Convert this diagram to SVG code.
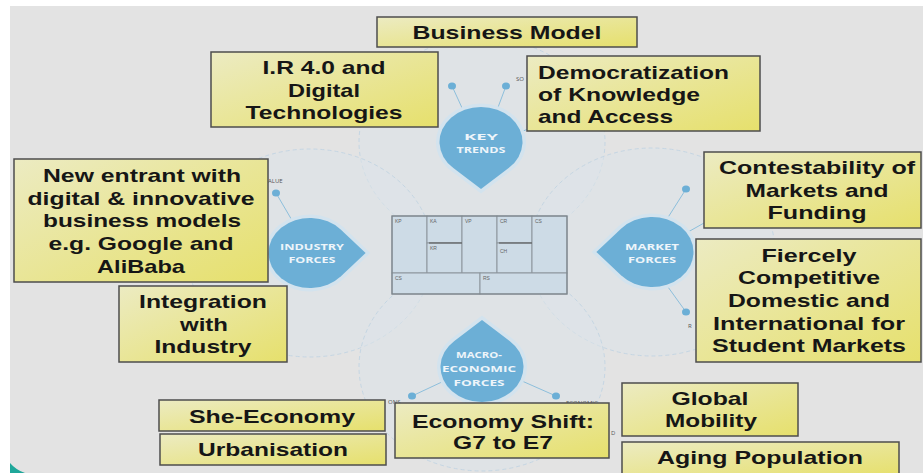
<svg xmlns="http://www.w3.org/2000/svg" width="923" height="473" viewBox="0 0 923 473">
<defs>
<linearGradient id="yg" x1="0" y1="0" x2="1" y2="1">
<stop offset="0" stop-color="#ecebc2"/>
<stop offset="1" stop-color="#e6e06c"/>
</linearGradient>
<path id="drop" d="M0,1.34 L-0.666,0.746 A1,1 0 1 1 0.666,0.746 Z"/>
<style>
.box{fill:url(#yg);stroke:#4d4d4d;stroke-width:1.5}
.bt{font-family:"Liberation Sans",Arial,sans-serif;font-weight:bold;font-size:19px;fill:#161616;text-anchor:middle}
.bl{font-family:"Liberation Sans",Arial,sans-serif;font-weight:bold;font-size:19px;fill:#161616}
.dt{font-family:"Open Sans","Liberation Sans",sans-serif;font-weight:bold;font-size:9.5px;fill:#eef5fa;text-anchor:middle}
.drop{fill:#6cafd6}
.halo{fill:#d3e3ee}
.big{fill:#dde4ea;fill-opacity:0.55;stroke:#c5d6e3;stroke-width:1;stroke-dasharray:4 3}
.sat{stroke:#8dbfdc;stroke-width:1;fill:none}
.dot{fill:#6cafd6}
.tiny{font-family:"Open Sans","Liberation Sans",sans-serif;font-size:6px;fill:#555}
.cell{fill:#cddbe6;stroke:#8d969d;stroke-width:1}
.cl{font-family:"Liberation Sans",sans-serif;font-size:5px;fill:#666}
</style>
</defs>

<rect x="0" y="0" width="923" height="473" fill="#ffffff"/>
<rect x="10" y="6" width="913" height="467" fill="#e3e3e3"/>
<path d="M10,463 Q16,470 25,473 L10,473 Z" fill="#1fa79a"/>

<g id="background-circles">
<ellipse class="big" cx="482" cy="142" rx="123" ry="104"/>
<ellipse class="big" cx="310" cy="253" rx="123" ry="104"/>
<ellipse class="big" cx="652" cy="252" rx="123" ry="104"/>
<ellipse class="big" cx="482" cy="367" rx="123" ry="104"/>
</g>

<g id="connectors">
<line class="sat" x1="452" y1="86" x2="463" y2="110"/>
<line class="sat" x1="506" y1="86" x2="497" y2="110"/>
<line class="sat" x1="521" y1="132" x2="530" y2="128"/>
<line class="sat" x1="276" y1="193" x2="293" y2="222"/>
<line class="sat" x1="284" y1="286" x2="276" y2="296"/>
<line class="sat" x1="686" y1="189" x2="667" y2="219"/>
<line class="sat" x1="686" y1="312" x2="668" y2="287"/>
<line class="sat" x1="688" y1="232" x2="704" y2="223"/>
<line class="sat" x1="412" y1="396" x2="444" y2="381"/>
<line class="sat" x1="556" y1="396" x2="522" y2="381"/>
<line class="sat" x1="466" y1="398" x2="466" y2="404"/>
<line class="sat" x1="499" y1="398" x2="499" y2="404"/>
<ellipse class="dot" cx="452" cy="86" rx="4" ry="3.5"/>
<ellipse class="dot" cx="506" cy="86" rx="4" ry="3.5"/>
<ellipse class="dot" cx="276" cy="193" rx="4" ry="3.5"/>
<ellipse class="dot" cx="686" cy="189" rx="4" ry="3.5"/>
<ellipse class="dot" cx="686" cy="312" rx="4" ry="3.5"/>
<ellipse class="dot" cx="412" cy="396" rx="4" ry="3.5"/>
<ellipse class="dot" cx="556" cy="396" rx="4" ry="3.5"/>
</g>

<g id="sat-labels">
<text class="tiny" x="516" y="81">SO</text>
<text class="tiny" x="268" y="183">ALUE</text>
<text class="tiny" x="688" y="328">R</text>
<text class="tiny" x="388" y="404">ONS</text>
<text class="tiny" x="566" y="405">ECONOMIC</text>
<text class="tiny" x="611" y="435">D</text>
</g>

<g id="canvas">
<rect class="cell" x="392" y="216" width="35" height="57"/>
<rect class="cell" x="427" y="216" width="35" height="27"/>
<rect class="cell" x="427" y="243" width="35" height="30"/>
<rect class="cell" x="462" y="216" width="35" height="57"/>
<rect class="cell" x="497" y="216" width="35" height="27"/>
<rect class="cell" x="497" y="243" width="35" height="30"/>
<rect class="cell" x="532" y="216" width="35" height="57"/>
<rect class="cell" x="392" y="273" width="88" height="21"/>
<rect class="cell" x="480" y="273" width="87" height="21"/>
<rect x="392" y="216" width="175" height="78" fill="none" stroke="#7d868d" stroke-width="1.2"/>
<line x1="429" y1="243" x2="462" y2="243" stroke="#555" stroke-width="1.2"/>
<line x1="499" y1="243" x2="532" y2="243" stroke="#555" stroke-width="1.2"/>
<text class="cl" x="395" y="223">KP</text>
<text class="cl" x="430" y="223">KA</text>
<text class="cl" x="465" y="223">VP</text>
<text class="cl" x="500" y="223">CR</text>
<text class="cl" x="535" y="223">CS</text>
<text class="cl" x="430" y="250">KR</text>
<text class="cl" x="500" y="253">CH</text>
<text class="cl" x="395" y="280">CS</text>
<text class="cl" x="483" y="280">RS</text>
</g>

<g id="key-trends">
<use href="#drop" class="halo" transform="translate(481,142) scale(45,38.5)"/>
<use href="#drop" class="drop" transform="translate(481,142) scale(41.5,35)"/>
<text class="dt" x="481" y="140" textLength="34" lengthAdjust="spacingAndGlyphs">KEY</text>
<text class="dt" x="481" y="153" textLength="49" lengthAdjust="spacingAndGlyphs">TRENDS</text>
</g>

<g id="industry-forces">
<use href="#drop" class="halo" transform="translate(310,253) scale(45,38.5) rotate(-90)"/>
<use href="#drop" class="drop" transform="translate(310,253) scale(41.5,35) rotate(-90)"/>
<text class="dt" x="312" y="250" textLength="64" lengthAdjust="spacingAndGlyphs">INDUSTRY</text>
<text class="dt" x="312" y="263" textLength="47" lengthAdjust="spacingAndGlyphs">FORCES</text>
</g>

<g id="market-forces">
<use href="#drop" class="halo" transform="translate(652,252) scale(45,38.5) rotate(90)"/>
<use href="#drop" class="drop" transform="translate(652,252) scale(41.5,35) rotate(90)"/>
<text class="dt" x="652" y="250" textLength="54" lengthAdjust="spacingAndGlyphs">MARKET</text>
<text class="dt" x="652" y="263" textLength="48" lengthAdjust="spacingAndGlyphs">FORCES</text>
</g>

<g id="macro-economic-forces">
<use href="#drop" class="halo" transform="translate(482,367) scale(45,38.5) rotate(180)"/>
<use href="#drop" class="drop" transform="translate(482,367) scale(41.5,35) rotate(180)"/>
<text class="dt" x="479" y="358" textLength="46" lengthAdjust="spacingAndGlyphs">MACRO-</text>
<text class="dt" x="479" y="372" textLength="74" lengthAdjust="spacingAndGlyphs">ECONOMIC</text>
<text class="dt" x="479" y="386" textLength="51" lengthAdjust="spacingAndGlyphs">FORCES</text>
</g>

<g id="business-model">
<rect class="box" x="377" y="17" width="260" height="30"/>
<text class="bt" x="507" y="39" textLength="189" lengthAdjust="spacingAndGlyphs">Business Model</text>
</g>

<g id="ir40">
<rect class="box" x="211" y="52" width="227" height="75"/>
<text class="bt" x="324" y="74" font-size="18" textLength="123" lengthAdjust="spacingAndGlyphs">I.R 4.0 and</text>
<text class="bt" x="324" y="97" font-size="18" textLength="72" lengthAdjust="spacingAndGlyphs">Digital</text>
<text class="bt" x="324" y="119" font-size="18" textLength="157" lengthAdjust="spacingAndGlyphs">Technologies</text>
</g>

<g id="democratization">
<rect class="box" x="527" y="56" width="233" height="75"/>
<text class="bl" x="538" y="79" textLength="191" lengthAdjust="spacingAndGlyphs">Democratization</text>
<text class="bl" x="538" y="101" textLength="162" lengthAdjust="spacingAndGlyphs">of Knowledge</text>
<text class="bl" x="538" y="123" textLength="135" lengthAdjust="spacingAndGlyphs">and Access</text>
</g>

<g id="new-entrant">
<rect class="box" x="14" y="159" width="254" height="123"/>
<text class="bt" x="142" y="182" textLength="198" lengthAdjust="spacingAndGlyphs">New entrant with</text>
<text class="bt" x="141" y="205" textLength="227" lengthAdjust="spacingAndGlyphs">digital &amp; innovative</text>
<text class="bt" x="142" y="227" textLength="198" lengthAdjust="spacingAndGlyphs">business models</text>
<text class="bt" x="141" y="250" textLength="185" lengthAdjust="spacingAndGlyphs">e.g. Google and</text>
<text class="bt" x="141" y="273" textLength="88" lengthAdjust="spacingAndGlyphs">AliBaba</text>
</g>

<g id="integration">
<rect class="box" x="119" y="286" width="168" height="76"/>
<text class="bt" x="203" y="308" textLength="128" lengthAdjust="spacingAndGlyphs">Integration</text>
<text class="bt" x="204" y="331" textLength="48" lengthAdjust="spacingAndGlyphs">with</text>
<text class="bt" x="203" y="353" textLength="97" lengthAdjust="spacingAndGlyphs">Industry</text>
</g>

<g id="contestability">
<rect class="box" x="704" y="152" width="217" height="76"/>
<text class="bt" x="817" y="174" textLength="196" lengthAdjust="spacingAndGlyphs">Contestability of</text>
<text class="bt" x="817" y="197" textLength="143" lengthAdjust="spacingAndGlyphs">Markets and</text>
<text class="bt" x="817" y="219" textLength="99" lengthAdjust="spacingAndGlyphs">Funding</text>
</g>

<g id="fiercely-competitive">
<rect class="box" x="696" y="239" width="225" height="123"/>
<text class="bt" x="809" y="262" textLength="95" lengthAdjust="spacingAndGlyphs">Fiercely</text>
<text class="bt" x="809" y="284" textLength="142" lengthAdjust="spacingAndGlyphs">Competitive</text>
<text class="bt" x="809" y="307" textLength="162" lengthAdjust="spacingAndGlyphs">Domestic and</text>
<text class="bt" x="809" y="330" textLength="192" lengthAdjust="spacingAndGlyphs">International for</text>
<text class="bt" x="809" y="352" textLength="194" lengthAdjust="spacingAndGlyphs">Student Markets</text>
</g>

<g id="she-economy">
<rect class="box" x="159" y="400" width="226" height="31"/>
<text class="bt" x="272" y="423" textLength="166" lengthAdjust="spacingAndGlyphs">She-Economy</text>
</g>

<g id="urbanisation">
<rect class="box" x="160" y="434" width="226" height="31"/>
<text class="bt" x="273" y="456" textLength="150" lengthAdjust="spacingAndGlyphs">Urbanisation</text>
</g>

<g id="economy-shift">
<rect class="box" x="395" y="403" width="214" height="55"/>
<text class="bt" x="503" y="428" textLength="182" lengthAdjust="spacingAndGlyphs">Economy Shift:</text>
<text class="bt" x="503" y="449" textLength="100" lengthAdjust="spacingAndGlyphs">G7 to E7</text>
</g>

<g id="global-mobility">
<rect class="box" x="622" y="383" width="176" height="53"/>
<text class="bt" x="710" y="405" textLength="77" lengthAdjust="spacingAndGlyphs">Global</text>
<text class="bt" x="711" y="427" textLength="92" lengthAdjust="spacingAndGlyphs">Mobility</text>
</g>

<g id="aging-population">
<rect class="box" x="622" y="442" width="277" height="34"/>
<text class="bt" x="760" y="464" textLength="206" lengthAdjust="spacingAndGlyphs">Aging Population</text>
</g>
</svg>
